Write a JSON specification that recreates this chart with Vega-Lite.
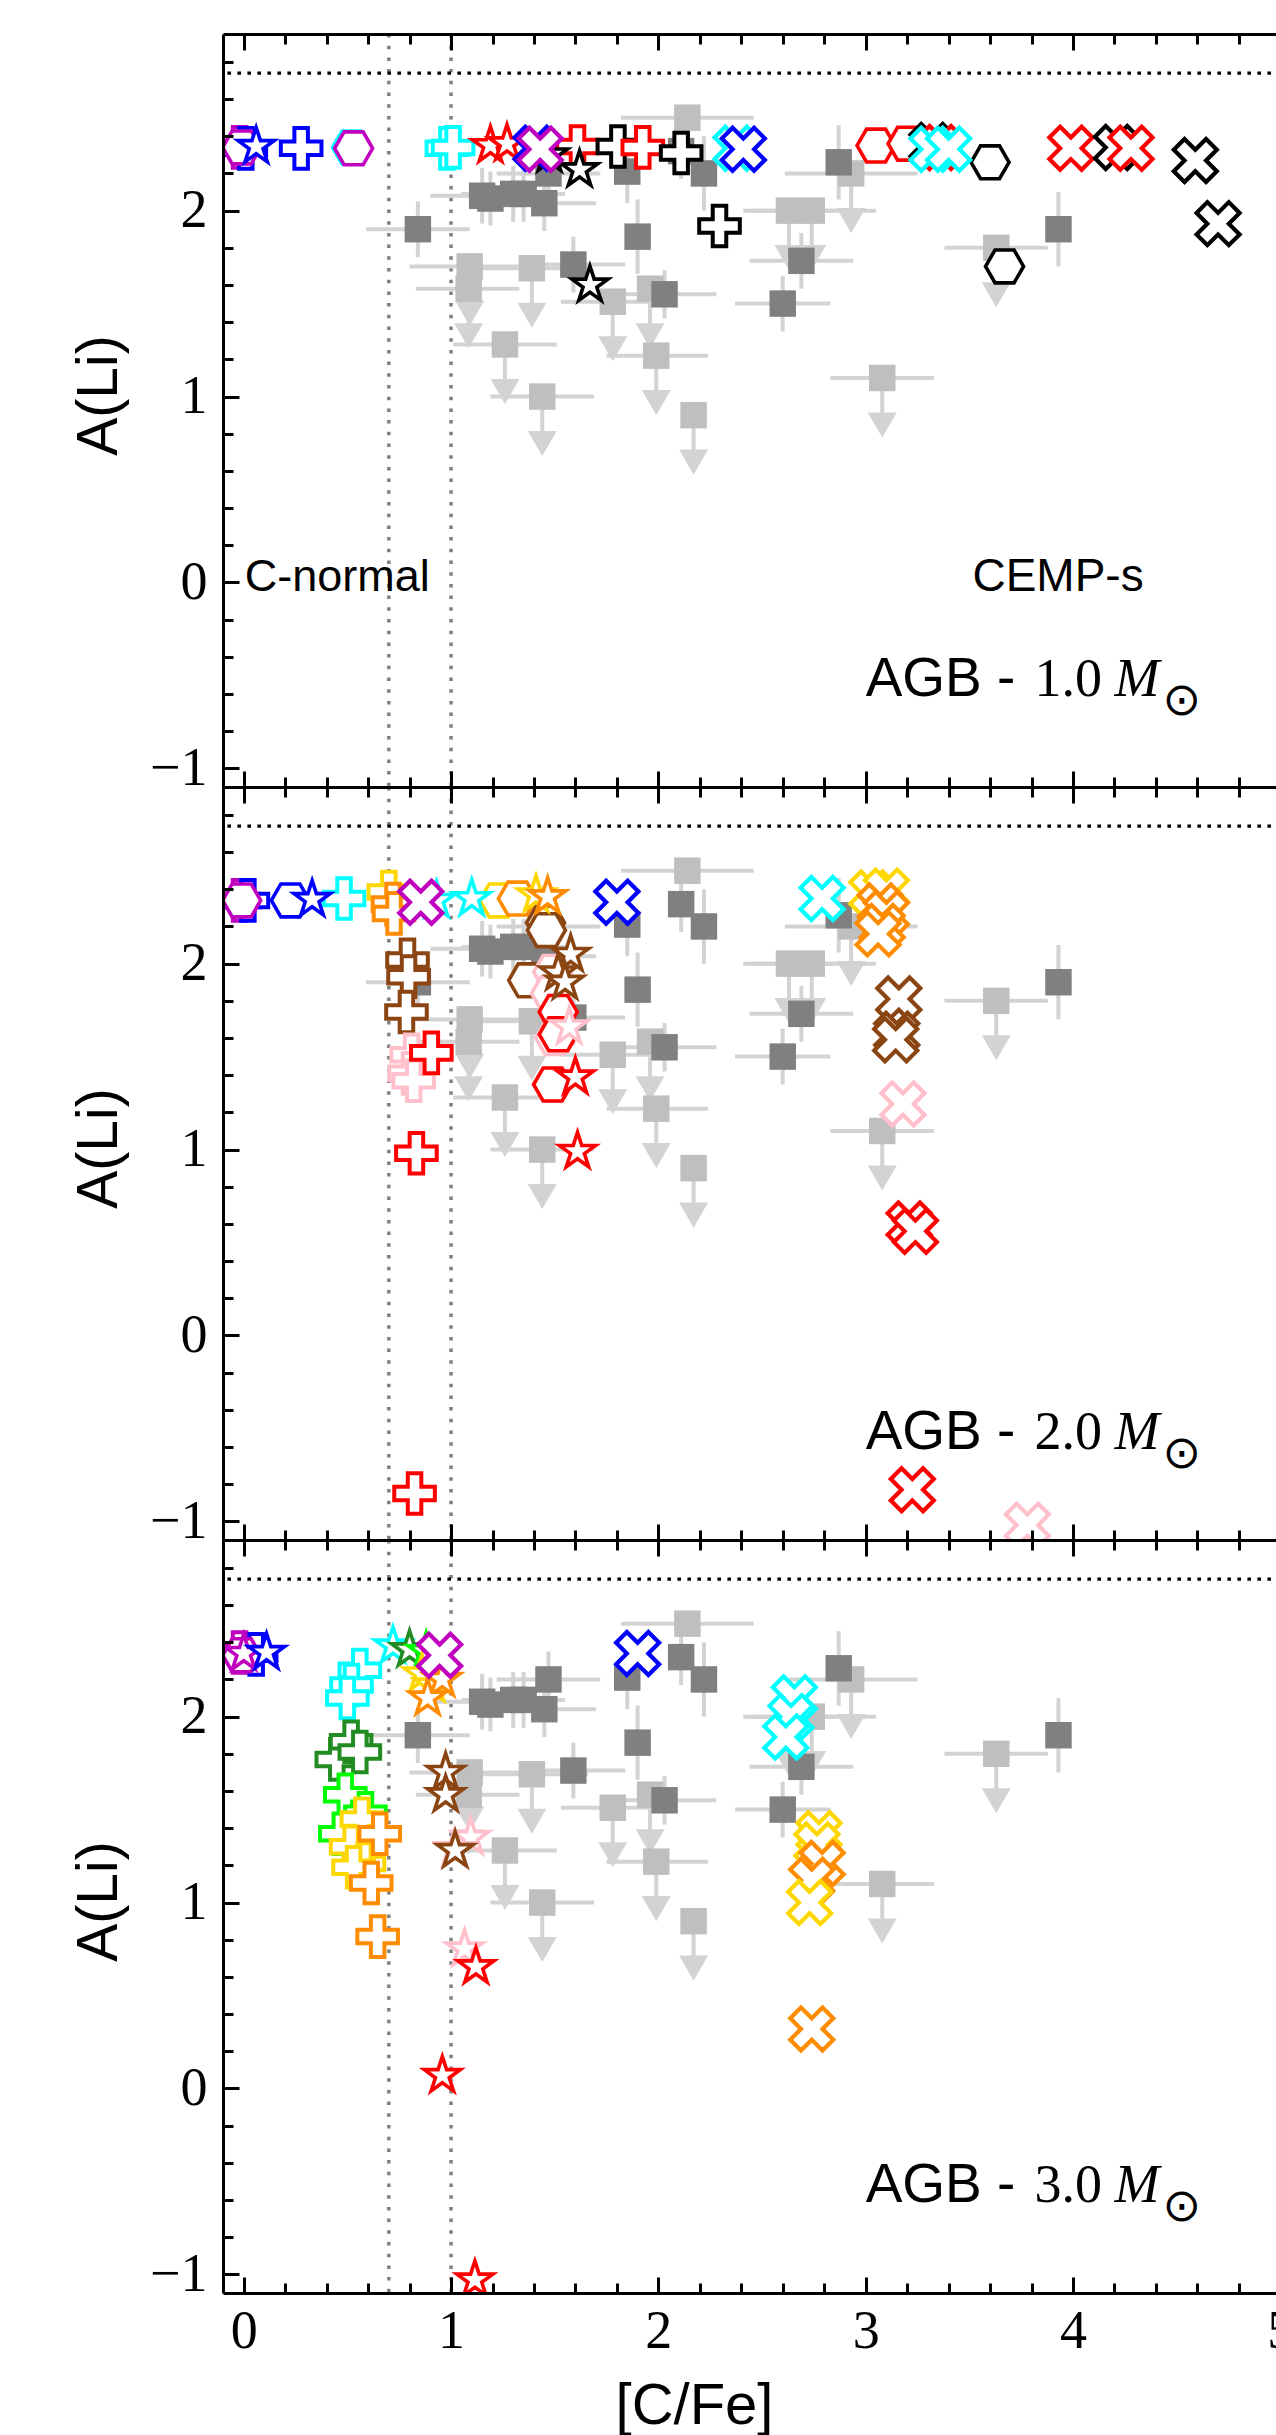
{
"$schema": "https://vega.github.io/schema/vega-lite/v6.json",
"background": "white",
"padding": {"left": 70, "top": 32, "right": 0, "bottom": 0},
"bounds": "flush",
"spacing": 0,
"config": {"view": {"stroke": null}, "axis": {"grid": false, "domainColor": "black", "domainWidth": 3, "tickColor": "black", "tickWidth": 3, "labelColor": "black", "titleColor": "black", "labelFlush": false, "labelOverlap": false, "labelBound": false}},
"datasets": {
"obs": [
{"x":0.84,"y":1.90,"xlo":0.59,"xhi":1.09,"ylo":1.75,"yhi":2.05,"k":"d"},
{"x":1.15,"y":2.08,"xlo":0.90,"xhi":1.40,"ylo":1.93,"yhi":2.23,"k":"d"},
{"x":1.19,"y":2.065,"ylo":1.92,"yhi":2.21,"k":"d"},
{"x":1.30,"y":2.09,"xlo":1.05,"xhi":1.55,"ylo":1.94,"yhi":2.24,"k":"d"},
{"x":1.35,"y":2.09,"ylo":1.94,"yhi":2.24,"k":"d"},
{"x":1.45,"y":2.04,"xlo":1.20,"xhi":1.70,"ylo":1.89,"yhi":2.19,"k":"d"},
{"x":1.47,"y":2.20,"xlo":1.22,"xhi":1.72,"ylo":2.05,"yhi":2.35,"k":"d"},
{"x":1.59,"y":1.71,"xlo":1.34,"xhi":1.84,"ylo":1.56,"yhi":1.86,"k":"d"},
{"x":1.85,"y":2.21,"ylo":2.04,"yhi":2.38,"k":"d"},
{"x":1.90,"y":1.86,"ylo":1.66,"yhi":2.06,"k":"d"},
{"x":2.03,"y":1.55,"xlo":1.80,"xhi":2.28,"ylo":1.42,"yhi":1.68,"k":"d"},
{"x":2.11,"y":2.32,"ylo":2.17,"yhi":2.47,"k":"d"},
{"x":2.22,"y":2.20,"ylo":2.00,"yhi":2.40,"k":"d"},
{"x":2.60,"y":1.50,"xlo":2.37,"xhi":2.83,"ylo":1.35,"yhi":1.65,"k":"d"},
{"x":2.69,"y":1.73,"xlo":2.44,"xhi":2.94,"ylo":1.58,"yhi":1.88,"k":"d"},
{"x":2.87,"y":2.26,"ylo":2.06,"yhi":2.46,"k":"d"},
{"x":3.93,"y":1.90,"ylo":1.70,"yhi":2.10,"k":"d"},
{"x":2.14,"y":2.50,"xlo":1.82,"xhi":2.46,"k":"n"},
{"x":1.09,"y":1.70,"xlo":0.80,"xhi":1.38,"k":"l"},
{"x":1.085,"y":1.58,"xlo":0.83,"xhi":1.33,"k":"l"},
{"x":1.39,"y":1.69,"xlo":1.12,"xhi":1.66,"k":"l"},
{"x":1.26,"y":1.28,"xlo":1.01,"xhi":1.51,"k":"l"},
{"x":1.44,"y":1.00,"xlo":1.19,"xhi":1.69,"k":"l"},
{"x":1.78,"y":1.51,"xlo":1.53,"xhi":2.03,"k":"l"},
{"x":1.96,"y":1.58,"k":"l"},
{"x":1.99,"y":1.22,"xlo":1.75,"xhi":2.24,"k":"l"},
{"x":2.17,"y":0.90,"k":"l"},
{"x":2.93,"y":2.20,"xlo":2.61,"xhi":3.25,"k":"l"},
{"x":2.63,"y":2.00,"xlo":2.41,"xhi":2.85,"k":"l"},
{"x":2.74,"y":2.00,"xlo":2.45,"xhi":3.05,"k":"l"},
{"x":3.63,"y":1.80,"xlo":3.38,"xhi":3.88,"k":"l"},
{"x":3.08,"y":1.10,"xlo":2.83,"xhi":3.33,"k":"l"}
],
"mod": [
{"p":1,"t":"plus","g":"a","x":-0.02,"y":2.34},
{"p":1,"t":"plus","g":"b","x":0.01,"y":2.335},
{"p":1,"t":"plus","g":"b","x":0.277,"y":2.335},
{"p":1,"t":"plus","g":"c","x":0.98,"y":2.335},
{"p":1,"t":"plus","g":"c","x":1.01,"y":2.34},
{"p":1,"t":"plus","g":"d","x":1.61,"y":2.345},
{"p":1,"t":"plus","g":"e","x":1.805,"y":2.345},
{"p":1,"t":"plus","g":"d","x":1.925,"y":2.34},
{"p":1,"t":"plus","g":"e","x":2.11,"y":2.31},
{"p":1,"t":"plus","g":"e","x":2.295,"y":1.917},
{"p":1,"t":"hex","g":"a","x":-0.01,"y":2.34},
{"p":1,"t":"hex","g":"c","x":0.52,"y":2.34},
{"p":1,"t":"hex","g":"a","x":0.53,"y":2.335},
{"p":1,"t":"hex","g":"d","x":3.05,"y":2.35},
{"p":1,"t":"hex","g":"d","x":3.20,"y":2.36},
{"p":1,"t":"hex","g":"e","x":3.60,"y":2.26},
{"p":1,"t":"hex","g":"e","x":3.67,"y":1.70},
{"p":1,"t":"star","g":"b","x":0.06,"y":2.345},
{"p":1,"t":"star","g":"d","x":1.19,"y":2.35},
{"p":1,"t":"star","g":"d","x":1.27,"y":2.36},
{"p":1,"t":"star","g":"e","x":1.475,"y":2.30},
{"p":1,"t":"star","g":"e","x":1.62,"y":2.22},
{"p":1,"t":"star","g":"e","x":1.67,"y":1.60},
{"p":1,"t":"x","g":"b","x":1.41,"y":2.335},
{"p":1,"t":"x","g":"a","x":1.43,"y":2.33},
{"p":1,"t":"x","g":"c","x":2.375,"y":2.335},
{"p":1,"t":"x","g":"b","x":2.41,"y":2.33},
{"p":1,"t":"x","g":"e","x":3.32,"y":2.35},
{"p":1,"t":"x","g":"d","x":3.36,"y":2.34},
{"p":1,"t":"x","g":"c","x":3.32,"y":2.33},
{"p":1,"t":"x","g":"c","x":3.40,"y":2.33},
{"p":1,"t":"x","g":"d","x":3.99,"y":2.335},
{"p":1,"t":"x","g":"e","x":4.21,"y":2.34},
{"p":1,"t":"x","g":"d","x":4.28,"y":2.335},
{"p":1,"t":"x","g":"e","x":4.59,"y":2.27},
{"p":1,"t":"x","g":"e","x":4.70,"y":1.93},
{"p":2,"t":"plus","g":"a","x":-0.02,"y":2.34},
{"p":2,"t":"plus","g":"b","x":0.02,"y":2.34},
{"p":2,"t":"plus","g":"c","x":0.484,"y":2.35},
{"p":2,"t":"plus","g":"f","x":0.70,"y":2.385},
{"p":2,"t":"plus","g":"g","x":0.72,"y":2.32},
{"p":2,"t":"plus","g":"g","x":0.725,"y":2.27},
{"p":2,"t":"plus","g":"h","x":0.79,"y":2.02},
{"p":2,"t":"plus","g":"h","x":0.795,"y":1.93},
{"p":2,"t":"plus","g":"h","x":0.785,"y":1.74},
{"p":2,"t":"plus","g":"i","x":0.81,"y":1.51},
{"p":2,"t":"plus","g":"i","x":0.80,"y":1.41},
{"p":2,"t":"plus","g":"i","x":0.82,"y":1.37},
{"p":2,"t":"plus","g":"d","x":0.905,"y":1.52},
{"p":2,"t":"plus","g":"d","x":0.833,"y":0.98},
{"p":2,"t":"plus","g":"d","x":0.824,"y":-0.85},
{"p":2,"t":"hex","g":"a","x":-0.01,"y":2.34},
{"p":2,"t":"hex","g":"b","x":0.225,"y":2.34},
{"p":2,"t":"hex","g":"f","x":1.23,"y":2.34},
{"p":2,"t":"hex","g":"g","x":1.32,"y":2.35},
{"p":2,"t":"hex","g":"h","x":1.456,"y":2.22},
{"p":2,"t":"hex","g":"h","x":1.46,"y":2.18},
{"p":2,"t":"hex","g":"h","x":1.37,"y":1.91},
{"p":2,"t":"hex","g":"i","x":1.49,"y":1.955},
{"p":2,"t":"hex","g":"i","x":1.48,"y":1.84},
{"p":2,"t":"hex","g":"i","x":1.50,"y":1.60},
{"p":2,"t":"hex","g":"d","x":1.517,"y":1.74},
{"p":2,"t":"hex","g":"d","x":1.517,"y":1.62},
{"p":2,"t":"hex","g":"d","x":1.49,"y":1.35},
{"p":2,"t":"star","g":"b","x":0.33,"y":2.345},
{"p":2,"t":"star","g":"c","x":0.93,"y":2.34},
{"p":2,"t":"star","g":"c","x":1.10,"y":2.35},
{"p":2,"t":"star","g":"f","x":1.41,"y":2.37},
{"p":2,"t":"star","g":"g","x":1.466,"y":2.36},
{"p":2,"t":"star","g":"h","x":1.577,"y":2.05},
{"p":2,"t":"star","g":"h","x":1.517,"y":1.95},
{"p":2,"t":"star","g":"h","x":1.55,"y":1.90},
{"p":2,"t":"star","g":"i","x":1.57,"y":1.66},
{"p":2,"t":"star","g":"d","x":1.60,"y":1.39},
{"p":2,"t":"star","g":"d","x":1.61,"y":0.99},
{"p":2,"t":"x","g":"a","x":0.854,"y":2.33},
{"p":2,"t":"x","g":"b","x":1.80,"y":2.33},
{"p":2,"t":"x","g":"c","x":2.79,"y":2.35},
{"p":2,"t":"x","g":"f","x":3.03,"y":2.38},
{"p":2,"t":"x","g":"f","x":3.10,"y":2.39},
{"p":2,"t":"x","g":"g","x":3.07,"y":2.31},
{"p":2,"t":"x","g":"g","x":3.10,"y":2.27},
{"p":2,"t":"x","g":"g","x":3.08,"y":2.20},
{"p":2,"t":"x","g":"g","x":3.06,"y":2.16},
{"p":2,"t":"x","g":"h","x":3.16,"y":1.81},
{"p":2,"t":"x","g":"h","x":3.15,"y":1.62},
{"p":2,"t":"x","g":"h","x":3.145,"y":1.59},
{"p":2,"t":"x","g":"i","x":3.18,"y":1.245},
{"p":2,"t":"x","g":"d","x":3.21,"y":0.60},
{"p":2,"t":"x","g":"d","x":3.24,"y":0.56},
{"p":2,"t":"x","g":"d","x":3.225,"y":-0.83},
{"p":2,"t":"x","g":"i","x":3.78,"y":-1.02},
{"p":3,"t":"plus","g":"a","x":-0.02,"y":2.345},
{"p":3,"t":"plus","g":"b","x":0.06,"y":2.335},
{"p":3,"t":"plus","g":"c","x":0.56,"y":2.25},
{"p":3,"t":"plus","g":"c","x":0.52,"y":2.17},
{"p":3,"t":"plus","g":"c","x":0.50,"y":2.10},
{"p":3,"t":"plus","g":"k","x":0.449,"y":1.77},
{"p":3,"t":"plus","g":"k","x":0.518,"y":1.865},
{"p":3,"t":"plus","g":"k","x":0.56,"y":1.81},
{"p":3,"t":"plus","g":"j","x":0.49,"y":1.58},
{"p":3,"t":"plus","g":"j","x":0.587,"y":1.48},
{"p":3,"t":"plus","g":"j","x":0.466,"y":1.37},
{"p":3,"t":"plus","g":"f","x":0.57,"y":1.45},
{"p":3,"t":"plus","g":"f","x":0.518,"y":1.30},
{"p":3,"t":"plus","g":"f","x":0.58,"y":1.21},
{"p":3,"t":"plus","g":"f","x":0.53,"y":1.19},
{"p":3,"t":"plus","g":"g","x":0.656,"y":1.37},
{"p":3,"t":"plus","g":"g","x":0.615,"y":1.105},
{"p":3,"t":"plus","g":"g","x":0.646,"y":0.817},
{"p":3,"t":"hex","g":"a","x":-0.01,"y":2.33},
{"p":3,"t":"star","g":"a","x":0.0,"y":2.34},
{"p":3,"t":"star","g":"b","x":0.11,"y":2.345},
{"p":3,"t":"star","g":"c","x":0.72,"y":2.38},
{"p":3,"t":"star","g":"k","x":0.80,"y":2.36},
{"p":3,"t":"star","g":"j","x":0.88,"y":2.35},
{"p":3,"t":"star","g":"f","x":0.86,"y":2.23},
{"p":3,"t":"star","g":"f","x":0.91,"y":2.17},
{"p":3,"t":"star","g":"g","x":0.957,"y":2.20},
{"p":3,"t":"star","g":"g","x":0.887,"y":2.10},
{"p":3,"t":"star","g":"h","x":0.974,"y":1.70},
{"p":3,"t":"star","g":"h","x":0.974,"y":1.58},
{"p":3,"t":"star","g":"i","x":1.095,"y":1.35},
{"p":3,"t":"star","g":"i","x":1.017,"y":1.29},
{"p":3,"t":"star","g":"h","x":1.02,"y":1.28},
{"p":3,"t":"star","g":"i","x":1.065,"y":0.75},
{"p":3,"t":"star","g":"d","x":1.12,"y":0.655},
{"p":3,"t":"star","g":"d","x":0.958,"y":0.07},
{"p":3,"t":"star","g":"d","x":1.115,"y":-1.03},
{"p":3,"t":"x","g":"a","x":0.945,"y":2.33},
{"p":3,"t":"x","g":"b","x":1.90,"y":2.34},
{"p":3,"t":"x","g":"c","x":2.656,"y":2.10},
{"p":3,"t":"x","g":"c","x":2.64,"y":2.00},
{"p":3,"t":"x","g":"c","x":2.615,"y":1.89},
{"p":3,"t":"x","g":"f","x":2.775,"y":1.37},
{"p":3,"t":"x","g":"f","x":2.765,"y":1.31},
{"p":3,"t":"x","g":"g","x":2.79,"y":1.21},
{"p":3,"t":"x","g":"g","x":2.74,"y":1.12},
{"p":3,"t":"x","g":"f","x":2.73,"y":1.00},
{"p":3,"t":"x","g":"g","x":2.74,"y":0.32}
]
},
"vconcat": [
{
"width": 1078, "height": 753,
"resolve": {"axis": {"x": "independent", "y": "independent"}},
"layer": [
{"data": {"values": [{"v": 0.7}, {"v": 1.0}]},
 "mark": {"type": "rule", "color": "#808080", "strokeWidth": 3.5, "strokeDash": [3.5, 8.2], "clip": true},
 "encoding": {"x": {"field": "v", "type": "quantitative", "scale": {"domain": [-0.1, 5.1], "nice": false, "zero": false}, "axis": {"orient": "bottom", "values": [0,1,2,3,4,5], "tickSize": -16, "labels": false, "title": null, "zindex": 1}}}},
{"data": {"values": [{"v": 2.74}]},
 "mark": {"type": "rule", "color": "black", "strokeWidth": 3.3, "strokeDash": [3.6, 6.4], "clip": true},
 "encoding": {"y": {"field": "v", "type": "quantitative", "scale": {"domain": [-1.1, 2.95], "nice": false, "zero": false}, "axis": {"orient": "left", "values": [-1,0,1,2], "tickSize": -16, "labelPadding": 32, "labelFontSize": 54, "labelFont": "Liberation Serif", "labelExpr": "datum.value < 0 ? '\u2212' + format(-datum.value, 'd') : format(datum.value, 'd')", "title": "A(Li)", "titleFont": "Liberation Sans", "titleFontSize": 57, "titleFontWeight": "normal", "titleX": -124, "titleY": 361, "titleAngle": 270, "titleBaseline": "middle", "titleAlign": "center", "zindex": 1}}}},
{"data": {"name": "obs"}, "transform": [{"filter": "isValid(datum.xlo)"}],
 "mark": {"type": "rule", "color": "#d3d3d3", "strokeWidth": 4, "clip": true},
 "encoding": {"x": {"field": "xlo", "type": "quantitative", "scale": {"domain": [-0.1, 5.1], "nice": false, "zero": false}, "axis": {"orient": "bottom", "values": [0.2,0.4,0.6,0.8,1.2,1.4,1.6,1.8,2.2,2.4,2.6,2.8,3.2,3.4,3.6,3.8,4.2,4.4,4.6,4.8], "tickSize": -10, "labels": false, "domain": false, "title": null, "zindex": 1}}, "x2": {"field": "xhi"}, "y": {"field": "y", "type": "quantitative", "scale": {"domain": [-1.1, 2.95], "nice": false, "zero": false}, "axis": {"orient": "left", "values": [-0.8,-0.6,-0.4,-0.2,0.2,0.4,0.6,0.8,1.2,1.4,1.6,1.8,2.2,2.4,2.6,2.8], "tickSize": -10, "labels": false, "domain": false, "title": null, "zindex": 1}}}},
{"data": {"name": "obs"}, "transform": [{"filter": "isValid(datum.ylo)"}],
 "mark": {"type": "rule", "color": "#d3d3d3", "strokeWidth": 4, "clip": true},
 "encoding": {"x": {"field": "x", "type": "quantitative", "scale": {"domain": [-0.1, 5.1], "nice": false, "zero": false}, "axis": {"orient": "top", "values": [0,1,2,3,4,5], "tickSize": -16, "labels": false, "title": null, "zindex": 1}}, "y": {"field": "ylo", "type": "quantitative", "scale": {"domain": [-1.1, 2.95], "nice": false, "zero": false}, "axis": null}, "y2": {"field": "yhi"}}},
{"data": {"name": "obs"}, "transform": [{"filter": "datum.k == 'l'"}],
 "mark": {"type": "rule", "color": "#d3d3d3", "strokeWidth": 4, "y2Offset": 38, "clip": true},
 "encoding": {"x": {"field": "x", "type": "quantitative", "scale": {"domain": [-0.1, 5.1], "nice": false, "zero": false}, "axis": {"orient": "top", "values": [0.2,0.4,0.6,0.8,1.2,1.4,1.6,1.8,2.2,2.4,2.6,2.8,3.2,3.4,3.6,3.8,4.2,4.4,4.6,4.8], "tickSize": -10, "labels": false, "domain": false, "title": null, "zindex": 1}}, "y": {"field": "y", "type": "quantitative", "scale": {"domain": [-1.1, 2.95], "nice": false, "zero": false}, "axis": null}, "y2": {"field": "y"}}},
{"data": {"name": "obs"}, "transform": [{"filter": "datum.k == 'l'"}],
 "mark": {"type": "point", "shape": "triangle-down", "filled": true, "color": "#d3d3d3", "opacity": 1, "size": 841, "yOffset": 47, "clip": true},
 "encoding": {"x": {"field": "x", "type": "quantitative", "scale": {"domain": [-0.1, 5.1], "nice": false, "zero": false}, "axis": null}, "y": {"field": "y", "type": "quantitative", "scale": {"domain": [-1.1, 2.95], "nice": false, "zero": false}, "axis": null}}},
{"data": {"name": "obs"}, "transform": [{"filter": "datum.k != 'd'"}],
 "mark": {"type": "point", "shape": "square", "filled": true, "color": "#bfbfbf", "opacity": 1, "size": 700, "clip": true},
 "encoding": {"x": {"field": "x", "type": "quantitative", "scale": {"domain": [-0.1, 5.1], "nice": false, "zero": false}, "axis": null}, "y": {"field": "y", "type": "quantitative", "scale": {"domain": [-1.1, 2.95], "nice": false, "zero": false}, "axis": null}}},
{"data": {"name": "obs"}, "transform": [{"filter": "datum.k == 'd'"}],
 "mark": {"type": "point", "shape": "square", "filled": true, "color": "#808080", "opacity": 1, "size": 700, "clip": true},
 "encoding": {"x": {"field": "x", "type": "quantitative", "scale": {"domain": [-0.1, 5.1], "nice": false, "zero": false}, "axis": null}, "y": {"field": "y", "type": "quantitative", "scale": {"domain": [-1.1, 2.95], "nice": false, "zero": false}, "axis": null}}},
{"data": {"name": "mod"}, "transform": [{"filter": "datum.p == 1 && datum.t == 'plus'"}],
 "mark": {"type": "point", "shape": "M -0.333 -1 L 0.333 -1 L 0.333 -0.333 L 1 -0.333 L 1 0.333 L 0.333 0.333 L 0.333 1 L -0.333 1 L -0.333 0.333 L -1 0.333 L -1 -0.333 L -0.333 -0.333 Z", "size": 1650, "filled": true, "fill": "white", "strokeWidth": 4, "opacity": 1, "clip": true},
 "encoding": {"x": {"field": "x", "type": "quantitative", "scale": {"domain": [-0.1, 5.1], "nice": false, "zero": false}, "axis": null}, "y": {"field": "y", "type": "quantitative", "scale": {"domain": [-1.1, 2.95], "nice": false, "zero": false}, "axis": null}, "stroke": {"field": "g", "type": "nominal", "scale": {"domain": ["a","b","c","d","e","f","g","h","i","j","k"], "range": ["#bf00bf","#0000ff","#00ffff","#ff0000","#000000","#ffd700","#ff8c00","#8b4513","#ffc0cb","#00ff00","#228b22"]}, "legend": null}}},
{"data": {"name": "mod"}, "transform": [{"filter": "datum.p == 1 && datum.t == 'hex'"}],
 "mark": {"type": "point", "shape": "M -1 0 L -0.5 -0.866 L 0.5 -0.866 L 1 0 L 0.5 0.866 L -0.5 0.866 Z", "size": 1444, "filled": true, "fill": "white", "strokeWidth": 3.6, "opacity": 1, "clip": true},
 "encoding": {"x": {"field": "x", "type": "quantitative", "scale": {"domain": [-0.1, 5.1], "nice": false, "zero": false}, "axis": null}, "y": {"field": "y", "type": "quantitative", "scale": {"domain": [-1.1, 2.95], "nice": false, "zero": false}, "axis": null}, "stroke": {"field": "g", "type": "nominal", "scale": {"domain": ["a","b","c","d","e","f","g","h","i","j","k"], "range": ["#bf00bf","#0000ff","#00ffff","#ff0000","#000000","#ffd700","#ff8c00","#8b4513","#ffc0cb","#00ff00","#228b22"]}, "legend": null}}},
{"data": {"name": "mod"}, "transform": [{"filter": "datum.p == 1 && datum.t == 'star'"}],
 "mark": {"type": "point", "shape": "M 0 -1 L 0.2245 -0.309 L 0.951 -0.309 L 0.363 0.118 L 0.588 0.809 L 0 0.382 L -0.588 0.809 L -0.363 0.118 L -0.951 -0.309 L -0.2245 -0.309 Z", "size": 1444, "filled": true, "fill": "white", "strokeWidth": 3.6, "opacity": 1, "clip": true},
 "encoding": {"x": {"field": "x", "type": "quantitative", "scale": {"domain": [-0.1, 5.1], "nice": false, "zero": false}, "axis": null}, "y": {"field": "y", "type": "quantitative", "scale": {"domain": [-1.1, 2.95], "nice": false, "zero": false}, "axis": null}, "stroke": {"field": "g", "type": "nominal", "scale": {"domain": ["a","b","c","d","e","f","g","h","i","j","k"], "range": ["#bf00bf","#0000ff","#00ffff","#ff0000","#000000","#ffd700","#ff8c00","#8b4513","#ffc0cb","#00ff00","#228b22"]}, "legend": null}}},
{"data": {"name": "mod"}, "transform": [{"filter": "datum.p == 1 && datum.t == 'x'"}],
 "mark": {"type": "point", "shape": "M 0.5 -1 L 1 -0.5 L 0.5 0 L 1 0.5 L 0.5 1 L 0 0.5 L -0.5 1 L -1 0.5 L -0.5 0 L -1 -0.5 L -0.5 -1 L 0 -0.5 Z", "size": 1850, "filled": true, "fill": "white", "strokeWidth": 4.2, "opacity": 1, "clip": true},
 "encoding": {"x": {"field": "x", "type": "quantitative", "scale": {"domain": [-0.1, 5.1], "nice": false, "zero": false}, "axis": null}, "y": {"field": "y", "type": "quantitative", "scale": {"domain": [-1.1, 2.95], "nice": false, "zero": false}, "axis": null}, "stroke": {"field": "g", "type": "nominal", "scale": {"domain": ["a","b","c","d","e","f","g","h","i","j","k"], "range": ["#bf00bf","#0000ff","#00ffff","#ff0000","#000000","#ffd700","#ff8c00","#8b4513","#ffc0cb","#00ff00","#228b22"]}, "legend": null}}},
{"data": {"values": [{}]},
 "mark": {"type": "text", "text": "C-normal", "align": "left", "baseline": "alphabetic", "font": "Liberation Sans", "fontSize": 45, "color": "black"},
 "encoding": {"x": {"datum": 0.005, "type": "quantitative", "scale": {"domain": [-0.1, 5.1], "nice": false, "zero": false}, "axis": null}, "y": {"datum": -0.045, "type": "quantitative", "scale": {"domain": [-1.1, 2.95], "nice": false, "zero": false}, "axis": null}}},
{"data": {"values": [{}]},
 "mark": {"type": "text", "text": "CEMP-s", "align": "left", "baseline": "alphabetic", "font": "Liberation Sans", "fontSize": 46, "color": "black"},
 "encoding": {"x": {"datum": 3.515, "type": "quantitative", "scale": {"domain": [-0.1, 5.1], "nice": false, "zero": false}, "axis": null}, "y": {"datum": -0.045, "type": "quantitative", "scale": {"domain": [-1.1, 2.95], "nice": false, "zero": false}, "axis": null}}},
{"data": {"values": [{}]},
 "mark": {"type": "text", "text": "AGB -", "align": "left", "baseline": "alphabetic", "font": "Liberation Sans", "fontSize": 55, "color": "black"},
 "encoding": {"x": {"datum": 3.0, "type": "quantitative", "scale": {"domain": [-0.1, 5.1], "nice": false, "zero": false}, "axis": null}, "y": {"datum": -0.61, "type": "quantitative", "scale": {"domain": [-1.1, 2.95], "nice": false, "zero": false}, "axis": null}}},
{"data": {"values": [{}]},
 "mark": {"type": "text", "text": "1.0", "align": "left", "baseline": "alphabetic", "font": "Liberation Serif", "fontSize": 54, "color": "black"},
 "encoding": {"x": {"datum": 3.815, "type": "quantitative", "scale": {"domain": [-0.1, 5.1], "nice": false, "zero": false}, "axis": null}, "y": {"datum": -0.61, "type": "quantitative", "scale": {"domain": [-1.1, 2.95], "nice": false, "zero": false}, "axis": null}}},
{"data": {"values": [{}]},
 "mark": {"type": "text", "text": "M", "align": "left", "baseline": "alphabetic", "font": "Liberation Serif", "fontStyle": "italic", "fontSize": 54, "color": "black"},
 "encoding": {"x": {"datum": 4.2, "type": "quantitative", "scale": {"domain": [-0.1, 5.1], "nice": false, "zero": false}, "axis": null}, "y": {"datum": -0.61, "type": "quantitative", "scale": {"domain": [-1.1, 2.95], "nice": false, "zero": false}, "axis": null}}},
{"data": {"values": [{}]},
 "mark": {"type": "text", "text": "⊙", "align": "center", "baseline": "middle", "font": "DejaVu Sans", "fontSize": 46, "color": "black"},
 "encoding": {"x": {"datum": 4.525, "type": "quantitative", "scale": {"domain": [-0.1, 5.1], "nice": false, "zero": false}, "axis": null}, "y": {"datum": -0.64, "type": "quantitative", "scale": {"domain": [-1.1, 2.95], "nice": false, "zero": false}, "axis": null}}}
]
},
{
"width": 1078, "height": 753,
"resolve": {"axis": {"x": "independent", "y": "independent"}},
"layer": [
{"data": {"values": [{"v": 0.7}, {"v": 1.0}]},
 "mark": {"type": "rule", "color": "#808080", "strokeWidth": 3.5, "strokeDash": [3.5, 8.2], "clip": true},
 "encoding": {"x": {"field": "v", "type": "quantitative", "scale": {"domain": [-0.1, 5.1], "nice": false, "zero": false}, "axis": {"orient": "bottom", "values": [0,1,2,3,4,5], "tickSize": -16, "labels": false, "title": null, "zindex": 1}}}},
{"data": {"values": [{"v": 2.74}]},
 "mark": {"type": "rule", "color": "black", "strokeWidth": 3.3, "strokeDash": [3.6, 6.4], "clip": true},
 "encoding": {"y": {"field": "v", "type": "quantitative", "scale": {"domain": [-1.1, 2.95], "nice": false, "zero": false}, "axis": {"orient": "left", "values": [-1,0,1,2], "tickSize": -16, "labelPadding": 32, "labelFontSize": 54, "labelFont": "Liberation Serif", "labelExpr": "datum.value < 0 ? '\u2212' + format(-datum.value, 'd') : format(datum.value, 'd')", "title": "A(Li)", "titleFont": "Liberation Sans", "titleFontSize": 57, "titleFontWeight": "normal", "titleX": -124, "titleY": 361, "titleAngle": 270, "titleBaseline": "middle", "titleAlign": "center", "zindex": 1}}}},
{"data": {"name": "obs"}, "transform": [{"filter": "isValid(datum.xlo)"}],
 "mark": {"type": "rule", "color": "#d3d3d3", "strokeWidth": 4, "clip": true},
 "encoding": {"x": {"field": "xlo", "type": "quantitative", "scale": {"domain": [-0.1, 5.1], "nice": false, "zero": false}, "axis": {"orient": "bottom", "values": [0.2,0.4,0.6,0.8,1.2,1.4,1.6,1.8,2.2,2.4,2.6,2.8,3.2,3.4,3.6,3.8,4.2,4.4,4.6,4.8], "tickSize": -10, "labels": false, "domain": false, "title": null, "zindex": 1}}, "x2": {"field": "xhi"}, "y": {"field": "y", "type": "quantitative", "scale": {"domain": [-1.1, 2.95], "nice": false, "zero": false}, "axis": {"orient": "left", "values": [-0.8,-0.6,-0.4,-0.2,0.2,0.4,0.6,0.8,1.2,1.4,1.6,1.8,2.2,2.4,2.6,2.8], "tickSize": -10, "labels": false, "domain": false, "title": null, "zindex": 1}}}},
{"data": {"name": "obs"}, "transform": [{"filter": "isValid(datum.ylo)"}],
 "mark": {"type": "rule", "color": "#d3d3d3", "strokeWidth": 4, "clip": true},
 "encoding": {"x": {"field": "x", "type": "quantitative", "scale": {"domain": [-0.1, 5.1], "nice": false, "zero": false}, "axis": {"orient": "top", "values": [0,1,2,3,4,5], "tickSize": -16, "labels": false, "title": null, "zindex": 1}}, "y": {"field": "ylo", "type": "quantitative", "scale": {"domain": [-1.1, 2.95], "nice": false, "zero": false}, "axis": null}, "y2": {"field": "yhi"}}},
{"data": {"name": "obs"}, "transform": [{"filter": "datum.k == 'l'"}],
 "mark": {"type": "rule", "color": "#d3d3d3", "strokeWidth": 4, "y2Offset": 38, "clip": true},
 "encoding": {"x": {"field": "x", "type": "quantitative", "scale": {"domain": [-0.1, 5.1], "nice": false, "zero": false}, "axis": {"orient": "top", "values": [0.2,0.4,0.6,0.8,1.2,1.4,1.6,1.8,2.2,2.4,2.6,2.8,3.2,3.4,3.6,3.8,4.2,4.4,4.6,4.8], "tickSize": -10, "labels": false, "domain": false, "title": null, "zindex": 1}}, "y": {"field": "y", "type": "quantitative", "scale": {"domain": [-1.1, 2.95], "nice": false, "zero": false}, "axis": null}, "y2": {"field": "y"}}},
{"data": {"name": "obs"}, "transform": [{"filter": "datum.k == 'l'"}],
 "mark": {"type": "point", "shape": "triangle-down", "filled": true, "color": "#d3d3d3", "opacity": 1, "size": 841, "yOffset": 47, "clip": true},
 "encoding": {"x": {"field": "x", "type": "quantitative", "scale": {"domain": [-0.1, 5.1], "nice": false, "zero": false}, "axis": null}, "y": {"field": "y", "type": "quantitative", "scale": {"domain": [-1.1, 2.95], "nice": false, "zero": false}, "axis": null}}},
{"data": {"name": "obs"}, "transform": [{"filter": "datum.k != 'd'"}],
 "mark": {"type": "point", "shape": "square", "filled": true, "color": "#bfbfbf", "opacity": 1, "size": 700, "clip": true},
 "encoding": {"x": {"field": "x", "type": "quantitative", "scale": {"domain": [-0.1, 5.1], "nice": false, "zero": false}, "axis": null}, "y": {"field": "y", "type": "quantitative", "scale": {"domain": [-1.1, 2.95], "nice": false, "zero": false}, "axis": null}}},
{"data": {"name": "obs"}, "transform": [{"filter": "datum.k == 'd'"}],
 "mark": {"type": "point", "shape": "square", "filled": true, "color": "#808080", "opacity": 1, "size": 700, "clip": true},
 "encoding": {"x": {"field": "x", "type": "quantitative", "scale": {"domain": [-0.1, 5.1], "nice": false, "zero": false}, "axis": null}, "y": {"field": "y", "type": "quantitative", "scale": {"domain": [-1.1, 2.95], "nice": false, "zero": false}, "axis": null}}},
{"data": {"name": "mod"}, "transform": [{"filter": "datum.p == 2 && datum.t == 'plus'"}],
 "mark": {"type": "point", "shape": "M -0.333 -1 L 0.333 -1 L 0.333 -0.333 L 1 -0.333 L 1 0.333 L 0.333 0.333 L 0.333 1 L -0.333 1 L -0.333 0.333 L -1 0.333 L -1 -0.333 L -0.333 -0.333 Z", "size": 1650, "filled": true, "fill": "white", "strokeWidth": 4, "opacity": 1, "clip": true},
 "encoding": {"x": {"field": "x", "type": "quantitative", "scale": {"domain": [-0.1, 5.1], "nice": false, "zero": false}, "axis": null}, "y": {"field": "y", "type": "quantitative", "scale": {"domain": [-1.1, 2.95], "nice": false, "zero": false}, "axis": null}, "stroke": {"field": "g", "type": "nominal", "scale": {"domain": ["a","b","c","d","e","f","g","h","i","j","k"], "range": ["#bf00bf","#0000ff","#00ffff","#ff0000","#000000","#ffd700","#ff8c00","#8b4513","#ffc0cb","#00ff00","#228b22"]}, "legend": null}}},
{"data": {"name": "mod"}, "transform": [{"filter": "datum.p == 2 && datum.t == 'hex'"}],
 "mark": {"type": "point", "shape": "M -1 0 L -0.5 -0.866 L 0.5 -0.866 L 1 0 L 0.5 0.866 L -0.5 0.866 Z", "size": 1444, "filled": true, "fill": "white", "strokeWidth": 3.6, "opacity": 1, "clip": true},
 "encoding": {"x": {"field": "x", "type": "quantitative", "scale": {"domain": [-0.1, 5.1], "nice": false, "zero": false}, "axis": null}, "y": {"field": "y", "type": "quantitative", "scale": {"domain": [-1.1, 2.95], "nice": false, "zero": false}, "axis": null}, "stroke": {"field": "g", "type": "nominal", "scale": {"domain": ["a","b","c","d","e","f","g","h","i","j","k"], "range": ["#bf00bf","#0000ff","#00ffff","#ff0000","#000000","#ffd700","#ff8c00","#8b4513","#ffc0cb","#00ff00","#228b22"]}, "legend": null}}},
{"data": {"name": "mod"}, "transform": [{"filter": "datum.p == 2 && datum.t == 'star'"}],
 "mark": {"type": "point", "shape": "M 0 -1 L 0.2245 -0.309 L 0.951 -0.309 L 0.363 0.118 L 0.588 0.809 L 0 0.382 L -0.588 0.809 L -0.363 0.118 L -0.951 -0.309 L -0.2245 -0.309 Z", "size": 1444, "filled": true, "fill": "white", "strokeWidth": 3.6, "opacity": 1, "clip": true},
 "encoding": {"x": {"field": "x", "type": "quantitative", "scale": {"domain": [-0.1, 5.1], "nice": false, "zero": false}, "axis": null}, "y": {"field": "y", "type": "quantitative", "scale": {"domain": [-1.1, 2.95], "nice": false, "zero": false}, "axis": null}, "stroke": {"field": "g", "type": "nominal", "scale": {"domain": ["a","b","c","d","e","f","g","h","i","j","k"], "range": ["#bf00bf","#0000ff","#00ffff","#ff0000","#000000","#ffd700","#ff8c00","#8b4513","#ffc0cb","#00ff00","#228b22"]}, "legend": null}}},
{"data": {"name": "mod"}, "transform": [{"filter": "datum.p == 2 && datum.t == 'x'"}],
 "mark": {"type": "point", "shape": "M 0.5 -1 L 1 -0.5 L 0.5 0 L 1 0.5 L 0.5 1 L 0 0.5 L -0.5 1 L -1 0.5 L -0.5 0 L -1 -0.5 L -0.5 -1 L 0 -0.5 Z", "size": 1850, "filled": true, "fill": "white", "strokeWidth": 4.2, "opacity": 1, "clip": true},
 "encoding": {"x": {"field": "x", "type": "quantitative", "scale": {"domain": [-0.1, 5.1], "nice": false, "zero": false}, "axis": null}, "y": {"field": "y", "type": "quantitative", "scale": {"domain": [-1.1, 2.95], "nice": false, "zero": false}, "axis": null}, "stroke": {"field": "g", "type": "nominal", "scale": {"domain": ["a","b","c","d","e","f","g","h","i","j","k"], "range": ["#bf00bf","#0000ff","#00ffff","#ff0000","#000000","#ffd700","#ff8c00","#8b4513","#ffc0cb","#00ff00","#228b22"]}, "legend": null}}},
{"data": {"values": [{}]},
 "mark": {"type": "text", "text": "AGB -", "align": "left", "baseline": "alphabetic", "font": "Liberation Sans", "fontSize": 55, "color": "black"},
 "encoding": {"x": {"datum": 3.0, "type": "quantitative", "scale": {"domain": [-0.1, 5.1], "nice": false, "zero": false}, "axis": null}, "y": {"datum": -0.61, "type": "quantitative", "scale": {"domain": [-1.1, 2.95], "nice": false, "zero": false}, "axis": null}}},
{"data": {"values": [{}]},
 "mark": {"type": "text", "text": "2.0", "align": "left", "baseline": "alphabetic", "font": "Liberation Serif", "fontSize": 54, "color": "black"},
 "encoding": {"x": {"datum": 3.815, "type": "quantitative", "scale": {"domain": [-0.1, 5.1], "nice": false, "zero": false}, "axis": null}, "y": {"datum": -0.61, "type": "quantitative", "scale": {"domain": [-1.1, 2.95], "nice": false, "zero": false}, "axis": null}}},
{"data": {"values": [{}]},
 "mark": {"type": "text", "text": "M", "align": "left", "baseline": "alphabetic", "font": "Liberation Serif", "fontStyle": "italic", "fontSize": 54, "color": "black"},
 "encoding": {"x": {"datum": 4.2, "type": "quantitative", "scale": {"domain": [-0.1, 5.1], "nice": false, "zero": false}, "axis": null}, "y": {"datum": -0.61, "type": "quantitative", "scale": {"domain": [-1.1, 2.95], "nice": false, "zero": false}, "axis": null}}},
{"data": {"values": [{}]},
 "mark": {"type": "text", "text": "⊙", "align": "center", "baseline": "middle", "font": "DejaVu Sans", "fontSize": 46, "color": "black"},
 "encoding": {"x": {"datum": 4.525, "type": "quantitative", "scale": {"domain": [-0.1, 5.1], "nice": false, "zero": false}, "axis": null}, "y": {"datum": -0.64, "type": "quantitative", "scale": {"domain": [-1.1, 2.95], "nice": false, "zero": false}, "axis": null}}}
]
},
{
"width": 1078, "height": 753,
"resolve": {"axis": {"x": "independent", "y": "independent"}},
"layer": [
{"data": {"values": [{"v": 0.7}, {"v": 1.0}]},
 "mark": {"type": "rule", "color": "#808080", "strokeWidth": 3.5, "strokeDash": [3.5, 8.2], "clip": true},
 "encoding": {"x": {"field": "v", "type": "quantitative", "scale": {"domain": [-0.1, 5.1], "nice": false, "zero": false}, "axis": {"orient": "bottom", "values": [0,1,2,3,4,5], "tickSize": -16, "labelPadding": 27, "labelFontSize": 54, "labelFont": "Liberation Serif", "format": "d", "title": "[C/Fe]", "titleFont": "Liberation Sans", "titleFontSize": 58, "titleFontWeight": "normal", "titleX": 471, "titleY": 130, "titleBaseline": "alphabetic", "titleAlign": "center", "zindex": 1}}}},
{"data": {"values": [{"v": 2.74}]},
 "mark": {"type": "rule", "color": "black", "strokeWidth": 3.3, "strokeDash": [3.6, 6.4], "clip": true},
 "encoding": {"y": {"field": "v", "type": "quantitative", "scale": {"domain": [-1.1, 2.95], "nice": false, "zero": false}, "axis": {"orient": "left", "values": [-1,0,1,2], "tickSize": -16, "labelPadding": 32, "labelFontSize": 54, "labelFont": "Liberation Serif", "labelExpr": "datum.value < 0 ? '\u2212' + format(-datum.value, 'd') : format(datum.value, 'd')", "title": "A(Li)", "titleFont": "Liberation Sans", "titleFontSize": 57, "titleFontWeight": "normal", "titleX": -124, "titleY": 361, "titleAngle": 270, "titleBaseline": "middle", "titleAlign": "center", "zindex": 1}}}},
{"data": {"name": "obs"}, "transform": [{"filter": "isValid(datum.xlo)"}],
 "mark": {"type": "rule", "color": "#d3d3d3", "strokeWidth": 4, "clip": true},
 "encoding": {"x": {"field": "xlo", "type": "quantitative", "scale": {"domain": [-0.1, 5.1], "nice": false, "zero": false}, "axis": {"orient": "bottom", "values": [0.2,0.4,0.6,0.8,1.2,1.4,1.6,1.8,2.2,2.4,2.6,2.8,3.2,3.4,3.6,3.8,4.2,4.4,4.6,4.8], "tickSize": -10, "labels": false, "domain": false, "title": null, "zindex": 1}}, "x2": {"field": "xhi"}, "y": {"field": "y", "type": "quantitative", "scale": {"domain": [-1.1, 2.95], "nice": false, "zero": false}, "axis": {"orient": "left", "values": [-0.8,-0.6,-0.4,-0.2,0.2,0.4,0.6,0.8,1.2,1.4,1.6,1.8,2.2,2.4,2.6,2.8], "tickSize": -10, "labels": false, "domain": false, "title": null, "zindex": 1}}}},
{"data": {"name": "obs"}, "transform": [{"filter": "isValid(datum.ylo)"}],
 "mark": {"type": "rule", "color": "#d3d3d3", "strokeWidth": 4, "clip": true},
 "encoding": {"x": {"field": "x", "type": "quantitative", "scale": {"domain": [-0.1, 5.1], "nice": false, "zero": false}, "axis": {"orient": "top", "values": [0,1,2,3,4,5], "tickSize": -16, "labels": false, "title": null, "zindex": 1}}, "y": {"field": "ylo", "type": "quantitative", "scale": {"domain": [-1.1, 2.95], "nice": false, "zero": false}, "axis": null}, "y2": {"field": "yhi"}}},
{"data": {"name": "obs"}, "transform": [{"filter": "datum.k == 'l'"}],
 "mark": {"type": "rule", "color": "#d3d3d3", "strokeWidth": 4, "y2Offset": 38, "clip": true},
 "encoding": {"x": {"field": "x", "type": "quantitative", "scale": {"domain": [-0.1, 5.1], "nice": false, "zero": false}, "axis": {"orient": "top", "values": [0.2,0.4,0.6,0.8,1.2,1.4,1.6,1.8,2.2,2.4,2.6,2.8,3.2,3.4,3.6,3.8,4.2,4.4,4.6,4.8], "tickSize": -10, "labels": false, "domain": false, "title": null, "zindex": 1}}, "y": {"field": "y", "type": "quantitative", "scale": {"domain": [-1.1, 2.95], "nice": false, "zero": false}, "axis": null}, "y2": {"field": "y"}}},
{"data": {"name": "obs"}, "transform": [{"filter": "datum.k == 'l'"}],
 "mark": {"type": "point", "shape": "triangle-down", "filled": true, "color": "#d3d3d3", "opacity": 1, "size": 841, "yOffset": 47, "clip": true},
 "encoding": {"x": {"field": "x", "type": "quantitative", "scale": {"domain": [-0.1, 5.1], "nice": false, "zero": false}, "axis": null}, "y": {"field": "y", "type": "quantitative", "scale": {"domain": [-1.1, 2.95], "nice": false, "zero": false}, "axis": null}}},
{"data": {"name": "obs"}, "transform": [{"filter": "datum.k != 'd'"}],
 "mark": {"type": "point", "shape": "square", "filled": true, "color": "#bfbfbf", "opacity": 1, "size": 700, "clip": true},
 "encoding": {"x": {"field": "x", "type": "quantitative", "scale": {"domain": [-0.1, 5.1], "nice": false, "zero": false}, "axis": null}, "y": {"field": "y", "type": "quantitative", "scale": {"domain": [-1.1, 2.95], "nice": false, "zero": false}, "axis": null}}},
{"data": {"name": "obs"}, "transform": [{"filter": "datum.k == 'd'"}],
 "mark": {"type": "point", "shape": "square", "filled": true, "color": "#808080", "opacity": 1, "size": 700, "clip": true},
 "encoding": {"x": {"field": "x", "type": "quantitative", "scale": {"domain": [-0.1, 5.1], "nice": false, "zero": false}, "axis": null}, "y": {"field": "y", "type": "quantitative", "scale": {"domain": [-1.1, 2.95], "nice": false, "zero": false}, "axis": null}}},
{"data": {"name": "mod"}, "transform": [{"filter": "datum.p == 3 && datum.t == 'plus'"}],
 "mark": {"type": "point", "shape": "M -0.333 -1 L 0.333 -1 L 0.333 -0.333 L 1 -0.333 L 1 0.333 L 0.333 0.333 L 0.333 1 L -0.333 1 L -0.333 0.333 L -1 0.333 L -1 -0.333 L -0.333 -0.333 Z", "size": 1650, "filled": true, "fill": "white", "strokeWidth": 4, "opacity": 1, "clip": true},
 "encoding": {"x": {"field": "x", "type": "quantitative", "scale": {"domain": [-0.1, 5.1], "nice": false, "zero": false}, "axis": null}, "y": {"field": "y", "type": "quantitative", "scale": {"domain": [-1.1, 2.95], "nice": false, "zero": false}, "axis": null}, "stroke": {"field": "g", "type": "nominal", "scale": {"domain": ["a","b","c","d","e","f","g","h","i","j","k"], "range": ["#bf00bf","#0000ff","#00ffff","#ff0000","#000000","#ffd700","#ff8c00","#8b4513","#ffc0cb","#00ff00","#228b22"]}, "legend": null}}},
{"data": {"name": "mod"}, "transform": [{"filter": "datum.p == 3 && datum.t == 'hex'"}],
 "mark": {"type": "point", "shape": "M -1 0 L -0.5 -0.866 L 0.5 -0.866 L 1 0 L 0.5 0.866 L -0.5 0.866 Z", "size": 1444, "filled": true, "fill": "white", "strokeWidth": 3.6, "opacity": 1, "clip": true},
 "encoding": {"x": {"field": "x", "type": "quantitative", "scale": {"domain": [-0.1, 5.1], "nice": false, "zero": false}, "axis": null}, "y": {"field": "y", "type": "quantitative", "scale": {"domain": [-1.1, 2.95], "nice": false, "zero": false}, "axis": null}, "stroke": {"field": "g", "type": "nominal", "scale": {"domain": ["a","b","c","d","e","f","g","h","i","j","k"], "range": ["#bf00bf","#0000ff","#00ffff","#ff0000","#000000","#ffd700","#ff8c00","#8b4513","#ffc0cb","#00ff00","#228b22"]}, "legend": null}}},
{"data": {"name": "mod"}, "transform": [{"filter": "datum.p == 3 && datum.t == 'star'"}],
 "mark": {"type": "point", "shape": "M 0 -1 L 0.2245 -0.309 L 0.951 -0.309 L 0.363 0.118 L 0.588 0.809 L 0 0.382 L -0.588 0.809 L -0.363 0.118 L -0.951 -0.309 L -0.2245 -0.309 Z", "size": 1444, "filled": true, "fill": "white", "strokeWidth": 3.6, "opacity": 1, "clip": true},
 "encoding": {"x": {"field": "x", "type": "quantitative", "scale": {"domain": [-0.1, 5.1], "nice": false, "zero": false}, "axis": null}, "y": {"field": "y", "type": "quantitative", "scale": {"domain": [-1.1, 2.95], "nice": false, "zero": false}, "axis": null}, "stroke": {"field": "g", "type": "nominal", "scale": {"domain": ["a","b","c","d","e","f","g","h","i","j","k"], "range": ["#bf00bf","#0000ff","#00ffff","#ff0000","#000000","#ffd700","#ff8c00","#8b4513","#ffc0cb","#00ff00","#228b22"]}, "legend": null}}},
{"data": {"name": "mod"}, "transform": [{"filter": "datum.p == 3 && datum.t == 'x'"}],
 "mark": {"type": "point", "shape": "M 0.5 -1 L 1 -0.5 L 0.5 0 L 1 0.5 L 0.5 1 L 0 0.5 L -0.5 1 L -1 0.5 L -0.5 0 L -1 -0.5 L -0.5 -1 L 0 -0.5 Z", "size": 1850, "filled": true, "fill": "white", "strokeWidth": 4.2, "opacity": 1, "clip": true},
 "encoding": {"x": {"field": "x", "type": "quantitative", "scale": {"domain": [-0.1, 5.1], "nice": false, "zero": false}, "axis": null}, "y": {"field": "y", "type": "quantitative", "scale": {"domain": [-1.1, 2.95], "nice": false, "zero": false}, "axis": null}, "stroke": {"field": "g", "type": "nominal", "scale": {"domain": ["a","b","c","d","e","f","g","h","i","j","k"], "range": ["#bf00bf","#0000ff","#00ffff","#ff0000","#000000","#ffd700","#ff8c00","#8b4513","#ffc0cb","#00ff00","#228b22"]}, "legend": null}}},
{"data": {"values": [{}]},
 "mark": {"type": "text", "text": "AGB -", "align": "left", "baseline": "alphabetic", "font": "Liberation Sans", "fontSize": 55, "color": "black"},
 "encoding": {"x": {"datum": 3.0, "type": "quantitative", "scale": {"domain": [-0.1, 5.1], "nice": false, "zero": false}, "axis": null}, "y": {"datum": -0.61, "type": "quantitative", "scale": {"domain": [-1.1, 2.95], "nice": false, "zero": false}, "axis": null}}},
{"data": {"values": [{}]},
 "mark": {"type": "text", "text": "3.0", "align": "left", "baseline": "alphabetic", "font": "Liberation Serif", "fontSize": 54, "color": "black"},
 "encoding": {"x": {"datum": 3.815, "type": "quantitative", "scale": {"domain": [-0.1, 5.1], "nice": false, "zero": false}, "axis": null}, "y": {"datum": -0.61, "type": "quantitative", "scale": {"domain": [-1.1, 2.95], "nice": false, "zero": false}, "axis": null}}},
{"data": {"values": [{}]},
 "mark": {"type": "text", "text": "M", "align": "left", "baseline": "alphabetic", "font": "Liberation Serif", "fontStyle": "italic", "fontSize": 54, "color": "black"},
 "encoding": {"x": {"datum": 4.2, "type": "quantitative", "scale": {"domain": [-0.1, 5.1], "nice": false, "zero": false}, "axis": null}, "y": {"datum": -0.61, "type": "quantitative", "scale": {"domain": [-1.1, 2.95], "nice": false, "zero": false}, "axis": null}}},
{"data": {"values": [{}]},
 "mark": {"type": "text", "text": "⊙", "align": "center", "baseline": "middle", "font": "DejaVu Sans", "fontSize": 46, "color": "black"},
 "encoding": {"x": {"datum": 4.525, "type": "quantitative", "scale": {"domain": [-0.1, 5.1], "nice": false, "zero": false}, "axis": null}, "y": {"datum": -0.64, "type": "quantitative", "scale": {"domain": [-1.1, 2.95], "nice": false, "zero": false}, "axis": null}}}
]
}
]
}
